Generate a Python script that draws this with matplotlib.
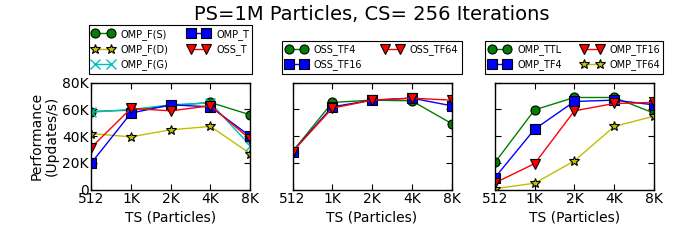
import matplotlib
matplotlib.use("Agg")
import matplotlib.pyplot as plt

ts_labels = ["512", "1K", "2K", "4K", "8K"]

# Panel 1
omp_fs = [58.5, 59.5, 62.8, 65.3, 56.0]
omp_fd = [42.0, 39.5, 44.8, 47.3, 27.0]
omp_fg = [58.0, 60.0, 63.5, 65.0, 33.0]
omp_t = [19.8, 57.3, 63.5, 62.0, 40.0]
oss_t = [31.5, 60.8, 59.0, 62.8, 37.8]

# Panel 2
oss_tf4 = [28.5, 65.3, 67.0, 66.5, 49.5]
oss_tf16 = [28.5, 62.0, 67.0, 68.5, 62.8]
oss_tf64 = [28.5, 61.0, 67.0, 68.5, 67.0]

# Panel 3
omp_ttl = [20.3, 59.8, 69.0, 69.0, 57.3]
omp_tf4 = [9.0, 45.3, 66.0, 67.0, 63.5]
omp_tf16 = [5.0, 19.5, 59.0, 64.5, 65.3]
omp_tf64 = [0.7, 4.8, 21.5, 47.3, 55.0]

plt.rcParams['font.family'] = ['DejaVu Sans']

fig = plt.figure(figsize=(6.78, 2.4), dpi=100)
h = 0.445
b = 0.21
ax1 = fig.add_axes([0.1345, b, 0.2345, h])
ax2 = fig.add_axes([0.4315, b, 0.2345, h])
ax3 = fig.add_axes([0.730, b, 0.2345, h])

x = list(range(len(ts_labels)))
ms = 6.5
lw = 1.0

def sty(c, m, msz=ms):
    return dict(color=c, marker=m, markersize=msz, markerfacecolor=c,
                markeredgecolor='black', markeredgewidth=0.8, linewidth=lw)

def kval(v):
    return [a * 1000 for a in v]

ax1.plot(x, kval(omp_fs), label="OMP_F(S)", **sty('green', 'o'))
ax1.plot(x, kval(omp_fd), label="OMP_F(D)", **sty('#bfbf00', '*', 7))
ax1.plot(x, kval(omp_fg), label="OMP_F(G)", color='#00bfbf', marker='x',
         markersize=ms, markeredgecolor='#00bfbf', linewidth=lw)
ax1.plot(x, kval(omp_t), label="OMP_T", **sty('blue', 's'))
ax1.plot(x, kval(oss_t), label="OSS_T", **sty('red', 'v', 7.5))

ax2.plot(x, kval(oss_tf4), label="OSS_TF4", **sty('green', 'o'))
ax2.plot(x, kval(oss_tf16), label="OSS_TF16", **sty('blue', 's'))
ax2.plot(x, kval(oss_tf64), label="OSS_TF64", **sty('red', 'v', 7.5))

ax3.plot(x, kval(omp_ttl), label="OMP_TTL", **sty('green', 'o'))
ax3.plot(x, kval(omp_tf4), label="OMP_TF4", **sty('blue', 's'))
ax3.plot(x, kval(omp_tf16), label="OMP_TF16", **sty('red', 'v', 7.5))
ax3.plot(x, kval(omp_tf64), label="OMP_TF64", **sty('#bfbf00', '*', 7))

yt = [0, 20000, 40000, 60000, 80000]
ytl = ["0", "20K", "40K", "60K", "80K"]
for i, ax in enumerate([ax1, ax2, ax3]):
    ax.set_xlim(0, 4)
    ax.set_ylim(0, 80000)
    ax.set_xticks(x)
    ax.set_xticklabels(ts_labels, fontsize=10)
    ax.set_yticks(yt)
    if i == 0:
        ax.set_yticklabels(ytl, fontsize=10)
    else:
        ax.set_yticklabels([])
    ax.tick_params(direction='in', top=True, right=True, length=4, width=0.8, pad=2)
    ax.set_xlabel("TS (Particles)", fontsize=10, labelpad=3)
    for s in ax.spines.values():
        s.set_linewidth(1.0)
    leg = ax.legend(loc='lower center', bbox_to_anchor=(0.5, 1.085), ncol=2,
                    fontsize=7, numpoints=2, fancybox=False, framealpha=1,
                    edgecolor='black', borderpad=0.35, handlelength=2.2,
                    labelspacing=0.45, columnspacing=2.0, handletextpad=0.7,
                    borderaxespad=0)
    leg.get_frame().set_linewidth(0.8)

ax1.set_ylabel("Performance\n(Updates/s)", fontsize=10, labelpad=2, linespacing=1.1)
pos2 = ax2.get_position()
fig.text((pos2.x0 + pos2.x1) / 2, 0.94, "PS=1M Particles, CS= 256 Iterations",
         fontsize=14, ha='center', va='center')

fig.savefig("out.png", dpi=100)
